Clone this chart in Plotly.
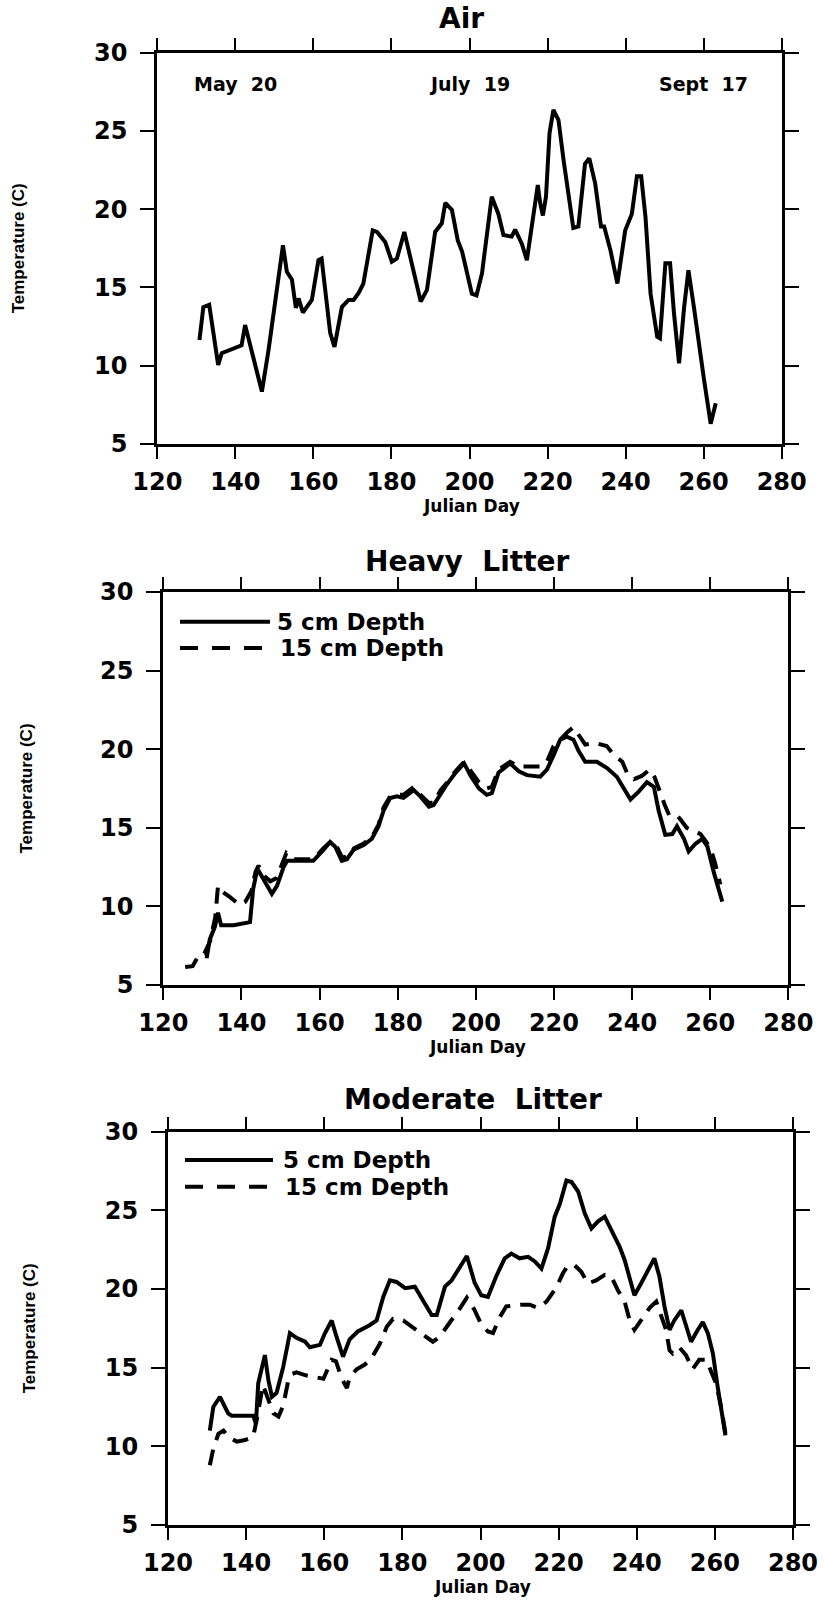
import plotly.graph_objects as go

W, H = 824, 1601

# ---------------- data ----------------
air_day = [130.8, 131.8, 133.3, 135.6, 136.5, 141.6, 142.5, 145.1, 146.8, 148.5, 152.2, 153.2, 154.5,
           155.5, 156.2, 157.3, 159.6, 161.3, 162.1, 164.3, 165.4, 167.3, 169.0, 170.3, 171.6, 172.8,
           175.2, 176.3, 178.4, 180.1, 181.4, 183.3, 185.7, 187.5, 189.1, 191.2, 192.9, 193.8, 195.5,
           197.0, 198.1, 200.6, 201.8, 203.2, 205.7, 207.4, 208.7, 210.8, 211.7, 213.4, 214.7, 215.9,
           217.5, 218.1, 218.8, 219.6, 220.5, 221.5, 222.8, 224.1, 225.4, 226.6, 227.9, 229.6, 230.7,
           232.2, 233.7, 234.5, 236.1, 237.9, 239.9, 241.6, 242.9, 244.0, 245.1, 246.4, 248.1, 248.8,
           250.2, 251.4, 252.4, 253.7, 255.0, 256.1, 257.5, 258.8, 260.1, 261.8, 263.1]
air_temp = [11.65, 13.75, 13.9, 10.05, 10.8, 11.3, 12.6, 10.15, 8.35, 11.0, 17.7, 16.0, 15.5,
            13.7, 14.3, 13.4, 14.2, 16.75, 16.85, 12.1, 11.2, 13.75, 14.2, 14.2, 14.65, 15.25,
            18.65, 18.55, 17.9, 16.65, 16.85, 18.55, 16.1, 14.1, 14.85, 18.55, 19.1, 20.4, 19.95,
            18.0, 17.3, 14.6, 14.5, 15.9, 20.8, 19.7, 18.35, 18.25, 18.7, 17.8, 16.75, 18.9,
            21.55, 20.4, 19.6, 20.8, 24.85, 26.35, 25.7, 23.15, 20.8, 18.8, 18.9, 22.9, 23.25,
            21.65, 18.9, 18.9, 17.4, 15.25, 18.65, 19.7, 22.1, 22.1, 19.5, 14.6, 11.85, 11.75,
            16.55, 16.55, 13.35, 10.15, 13.75, 16.1, 13.75, 11.2, 9.1, 6.3, 7.6]

heavy5_day = [131.1, 131.9, 133.2, 134.0, 134.8, 138.0, 142.2, 143.0, 144.1, 145.6, 147.8, 149.1, 150.8,
              151.7, 153.3, 158.4, 161.0, 162.7, 164.0, 165.7, 167.0, 168.7, 171.3, 173.4, 175.1, 176.4,
              178.1, 179.8, 181.5, 184.1, 185.8, 188.0, 189.2, 191.0, 192.7, 194.8, 197.0, 198.7, 200.8,
              202.8, 204.1, 205.8, 208.8, 211.0, 213.1, 216.5, 218.2, 219.9, 221.6, 223.3, 225.0, 226.3,
              228.0, 231.0, 233.6, 236.1, 237.8, 239.6, 241.7, 243.8, 245.6, 246.8, 248.5, 250.3, 251.5,
              253.3, 254.5, 256.3, 258.0, 259.3, 261.0, 263.1]
heavy5_temp = [6.7, 7.9, 8.7, 9.6, 8.8, 8.8, 9.0, 11.1, 12.4, 11.7, 10.8, 11.3, 12.5,
               12.9, 12.9, 12.9, 13.6, 14.1, 13.8, 12.9, 13.0, 13.6, 13.9, 14.3, 15.1, 16.1,
               16.9, 17.0, 16.9, 17.4, 17.0, 16.35, 16.45, 17.2, 17.8, 18.5, 19.1, 18.3, 17.5,
               17.1, 17.2, 18.5, 19.1, 18.6, 18.35, 18.25, 18.7, 19.6, 20.6, 20.8, 20.6, 19.9,
               19.2, 19.2, 18.8, 18.25, 17.6, 16.8, 17.3, 17.9, 17.6, 16.1, 14.55, 14.6, 15.1,
               14.3, 13.5, 14.0, 14.3, 13.8, 12.1, 10.3]

heavy15_day = [125.6, 127.5, 129.2, 130.5, 132.0, 133.3, 134.0, 135.3, 137.0, 139.5, 141.0, 142.6, 143.6,
               144.4, 145.6, 147.4, 149.0, 150.5, 151.5, 153.5, 158.5, 161.0, 162.8, 164.2, 165.8, 167.2,
               168.8, 171.3, 173.4, 175.1, 176.4, 178.1, 179.8, 181.5, 184.1, 185.8, 187.9, 189.2, 191.0,
               192.7, 194.8, 197.0, 198.7, 200.8, 202.8, 204.1, 205.8, 208.8, 211.0, 213.0, 216.5, 218.2,
               219.9, 221.6, 223.5, 225.0, 226.3, 228.0, 230.5, 233.5, 235.5, 237.5, 238.7, 240.5, 242.5,
               244.5, 245.8, 247.0, 248.3, 249.5, 251.5, 252.5, 254.0, 256.0, 257.5, 259.0, 260.2, 261.2,
               262.6]
heavy15_temp = [6.15, 6.2, 6.95, 7.0, 7.8, 9.3, 11.3, 10.9, 10.6, 10.1, 10.3, 11.0, 12.2,
                12.6, 12.0, 11.6, 11.8, 12.7, 13.4, 13.0, 13.0, 13.7, 14.1, 13.9, 13.1, 13.2,
                13.7, 14.0, 14.4, 15.2, 16.3, 17.0, 17.1, 17.1, 17.6, 17.1, 16.6, 16.6, 17.4,
                17.9, 18.6, 19.2, 18.6, 17.9, 17.5, 17.6, 18.7, 19.2, 18.9, 18.9, 18.9, 19.2,
                20.2, 20.6, 21.1, 21.4, 20.9, 20.3, 20.4, 20.2, 19.6, 19.2, 18.5, 18.1, 18.3,
                18.7, 18.2, 17.3, 16.5, 15.8, 15.8, 15.5, 15.0, 14.8, 14.6, 14.1, 13.6, 12.8,
                11.4]

mod5_day = [130.7, 131.6, 133.3, 135.4, 136.3, 141.8, 142.5, 143.1, 144.8, 145.7, 146.6, 147.8, 149.5,
            151.2, 152.9, 155.1, 156.3, 158.9, 160.2, 161.9, 163.1, 164.8, 166.5, 168.6, 171.6, 173.4,
            175.1, 176.8, 178.5, 180.7, 183.2, 185.4, 187.5, 188.8, 190.9, 192.6, 194.3, 196.5, 198.5,
            200.2, 201.9, 204.0, 206.2, 207.9, 210.0, 212.2, 213.9, 215.6, 217.3, 219.0, 220.3, 222.0,
            223.3, 225.0, 226.7, 228.4, 230.1, 231.8, 233.5, 235.6, 236.9, 238.2, 239.4, 241.1, 242.8,
            244.5, 245.8, 247.1, 248.4, 249.6, 251.4, 252.6, 253.9, 255.6, 256.9, 258.2, 259.5, 260.7,
            261.6, 262.7]
mod5_temp = [11.0, 12.5, 13.15, 12.1, 11.95, 11.95, 11.45, 14.0, 15.8, 14.2, 13.15, 13.4, 15.05,
             17.2, 16.9, 16.65, 16.3, 16.45, 17.2, 18.0, 17.0, 15.7, 16.8, 17.3, 17.7, 18.0,
             19.5, 20.55, 20.45, 20.05, 20.15, 19.2, 18.35, 18.35, 20.15, 20.55, 21.2, 22.1, 20.4,
             19.6, 19.5, 20.8, 21.95, 22.25, 21.95, 22.05, 21.75, 21.3, 22.6, 24.6, 25.4, 26.9,
             26.8, 26.2, 24.8, 23.85, 24.3, 24.6, 23.75, 22.7, 21.85, 20.55, 19.6, 20.35, 21.2,
             21.95, 20.8, 18.9, 17.4, 18.0, 18.65, 17.6, 16.65, 17.4, 17.9, 17.2, 15.9, 13.8,
             12.3, 10.7]

mod15_day = [130.7, 131.6, 132.9, 134.2, 135.4, 137.6, 139.7, 141.8, 142.8, 143.5, 144.3, 145.7, 147.0,
             148.3, 149.5, 150.8, 151.7, 152.9, 155.5, 159.8, 161.9, 163.0, 164.5, 165.8, 166.5, 168.3,
             170.4, 172.1, 174.2, 176.0, 177.6, 180.2, 181.9, 184.4, 186.1, 187.8, 189.5, 191.2, 192.5,
             194.3, 196.5, 198.4, 200.2, 201.9, 203.2, 204.9, 206.6, 210.4, 212.6, 214.7, 216.9, 219.4,
             221.1, 222.4, 224.1, 225.8, 227.5, 229.6, 231.8, 233.5, 235.2, 236.9, 238.2, 239.4, 241.1,
             243.3, 245.0, 246.2, 247.5, 248.4, 249.2, 250.9, 252.6, 254.3, 256.0, 257.8, 259.0, 260.3,
             261.6, 262.7]
mod15_temp = [8.8, 9.85, 10.8, 11.0, 10.6, 10.3, 10.4, 10.6, 11.8, 12.7, 13.9, 12.95, 12.1,
              11.9, 12.6, 14.2, 14.6, 14.7, 14.5, 14.3, 15.5, 15.4, 14.3, 13.7, 14.4, 14.9,
              15.2, 15.6, 16.5, 17.6, 18.1, 18.0, 17.7, 17.3, 16.95, 16.65, 16.95, 17.6, 18.0,
              18.6, 19.45, 18.7, 17.75, 17.3, 17.2, 18.2, 18.9, 19.0, 19.0, 18.8, 19.2, 20.1,
              21.0, 21.5, 21.5, 21.1, 20.35, 20.55, 20.9, 20.8, 19.9, 19.2, 18.0, 17.4, 18.0,
              18.8, 19.2, 18.25, 17.4, 16.1, 15.9, 16.3, 15.8, 14.9, 15.5, 15.5, 14.8, 14.0,
              12.5, 10.85]

x_ticks = [120, 140, 160, 180, 200, 220, 240, 260, 280]
y_ticks = [5, 10, 15, 20, 25, 30]
date_days = [140, 200, 260]
date_labels = ["May\u00a0\u00a020", "July\u00a0\u00a019", "Sept\u00a0\u00a017"]
panel_titles = ["Air", "Heavy\u00a0\u00a0Litter", "Moderate\u00a0\u00a0Litter"]
legend_labels = ["5 cm Depth", "15 cm Depth"]

# ---------------- layout helpers ----------------
def px(x):
    return x / W

def py(y):
    return 1 - y / H

# plot areas in pixels: (left, right, top, bottom)
areas = [(157.3, 781.7, 52.7, 444.0),
         (163.3, 788.3, 592.0, 985.0),
         (168.0, 793.0, 1131.7, 1525.0)]

BIG = "DejaVu Sans"
tickfont = dict(family=BIG, size=24, color="black", weight="bold")

fig = go.Figure()
black = "black"
solid = dict(color=black, width=4)
dashed = dict(color=black, width=4, dash="16px,10px")

fig.add_trace(go.Scatter(x=air_day, y=air_temp, mode="lines", line=solid, name="Air",
                         xaxis="x", yaxis="y", showlegend=False))
fig.add_trace(go.Scatter(x=heavy15_day, y=heavy15_temp, mode="lines", line=dashed, name=legend_labels[1],
                         xaxis="x2", yaxis="y2", showlegend=False))
fig.add_trace(go.Scatter(x=heavy5_day, y=heavy5_temp, mode="lines", line=solid, name=legend_labels[0],
                         xaxis="x2", yaxis="y2", showlegend=False))
fig.add_trace(go.Scatter(x=mod15_day, y=mod15_temp, mode="lines", line=dashed, name=legend_labels[1],
                         xaxis="x3", yaxis="y3", showlegend=False))
fig.add_trace(go.Scatter(x=mod5_day, y=mod5_temp, mode="lines", line=solid, name=legend_labels[0],
                         xaxis="x3", yaxis="y3", showlegend=False))

axis_common = dict(showline=True, linecolor=black, linewidth=3, mirror="ticks",
                   ticks="outside", tickcolor=black, tickwidth=2, showgrid=False,
                   zeroline=False, tickfont=tickfont, automargin=False)

layout = dict(width=W, height=H, margin=dict(l=0, r=0, t=0, b=0, pad=0), autosize=False,
              paper_bgcolor="white", plot_bgcolor="white", showlegend=False)

annotations = []
shapes = []
for i, (l, r, t, b) in enumerate(areas):
    sfx = "" if i == 0 else str(i + 1)
    layout["xaxis" + sfx] = dict(axis_common, domain=[px(l), px(r)], range=[120, 280],
                                 tickvals=x_ticks, ticklen=12, ticklabelstandoff=2,
                                 anchor="y" + sfx)
    layout["yaxis" + sfx] = dict(axis_common, domain=[py(b), py(t)], range=[5, 30],
                                 tickvals=y_ticks, ticklen=14, ticklabelstandoff=8,
                                 anchor="x" + sfx)
    cx = (l + r) / 2
    # panel title
    ty = [19, 561, 1099][i]
    annotations.append(dict(text=panel_titles[i], x=px(cx - 8), y=py(ty), xref="paper", yref="paper",
                            showarrow=False, xanchor="center", yanchor="middle",
                            font=dict(family=BIG, size=28, color=black, weight="bold")))
    # x axis title
    annotations.append(dict(text="Julian Day", x=px(cx + 2), y=py(b + 62), xref="paper", yref="paper",
                            showarrow=False, xanchor="center", yanchor="middle",
                            font=dict(family=BIG, size=17, color=black, weight="bold")))
    # y axis title
    annotations.append(dict(text="Temperature (C)", x=px([18, 26, 29][i]), y=py((t + b) / 2),
                            xref="paper", yref="paper", showarrow=False, textangle=-90,
                            xanchor="center", yanchor="middle",
                            font=dict(family="Liberation Sans", size=17, color=black, weight="bold")))

# date labels on the Air panel
for d, lab in zip(date_days, date_labels):
    annotations.append(dict(text=lab, x=d, y=py(84), xref="x", yref="paper", showarrow=False,
                            xanchor="center", yanchor="middle",
                            font=dict(family=BIG, size=19, color=black, weight="bold")))

# manual legends for the two litter panels
legend_pos = [  # (x0, x1 solid, x1 dashed, y solid, y dashed, text x solid, text x dashed)
    (180, 270, 263, 621.7, 648.0, 275, 278),
    (185, 273, 268, 1160.0, 1186.7, 281, 283),
]
for (x0, x1s, x1d, ys, yd, txs, txd) in legend_pos:
    shapes.append(dict(type="line", xref="paper", yref="paper", x0=px(x0), x1=px(x1s), y0=py(ys), y1=py(ys),
                       line=dict(color=black, width=4)))
    shapes.append(dict(type="line", xref="paper", yref="paper", x0=px(x0), x1=px(x1d), y0=py(yd), y1=py(yd),
                       line=dict(color=black, width=4, dash="18px,14px")))
    annotations.append(dict(text=legend_labels[0], x=px(txs), y=py(ys), xref="paper", yref="paper",
                            showarrow=False, xanchor="left", yanchor="middle",
                            font=dict(family=BIG, size=23, color=black, weight="bold")))
    annotations.append(dict(text=legend_labels[1], x=px(txd), y=py(yd), xref="paper", yref="paper",
                            showarrow=False, xanchor="left", yanchor="middle",
                            font=dict(family=BIG, size=23, color=black, weight="bold")))

layout["annotations"] = annotations
layout["shapes"] = shapes
fig.update_layout(**layout)

fig.write_html("out.html")
